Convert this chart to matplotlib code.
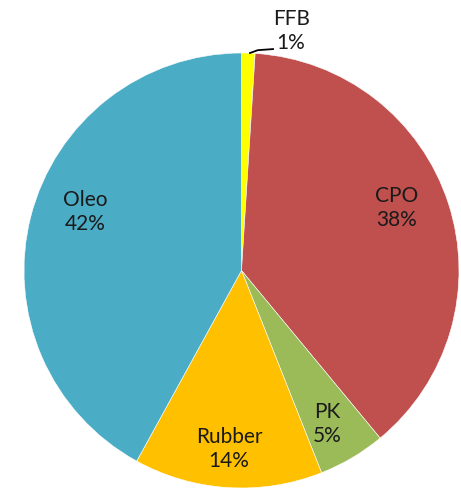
import matplotlib.pyplot as plt

labels = ['FFB', 'CPO', 'PK', 'Rubber', 'Oleo']
shares = [1, 38, 5, 14, 42]
colors = ['#FFFF00', '#C0504D', '#9BBB59', '#FFC000', '#4BACC6']
# label spots in pie-radius units
label_pos = [(0.228, 1.101), (0.715, 0.287), (0.393, -0.706), (-0.057, -0.821), (-0.720, 0.269)]

fig = plt.figure(figsize=(4.61, 4.92), dpi=100)
ax = fig.add_axes([0, 0, 1, 1])
ax.pie(shares, colors=colors, startangle=90, counterclock=False,
       wedgeprops=dict(edgecolor='white', linewidth=0.4))

for name, val, (x, y) in zip(labels, shares, label_pos):
    ax.text(x, y, f'{name}\n{val}%', ha='center', va='center', fontsize=15,
            family='Lato', color='#1a1a1a', linespacing=1.3)

# leader line for the small FFB slice
ax.plot([0.039, 0.075, 0.145], [1.0, 1.013, 1.018], color='black', lw=1.3)

ax.set_aspect('auto')
ax.set_xlim(-241.5 / 217.5, 219.5 / 217.5)
ax.set_ylim(-221.5 / 217.5, 270.5 / 217.5)
ax.axis('off')
fig.savefig('out.png', dpi=100)
